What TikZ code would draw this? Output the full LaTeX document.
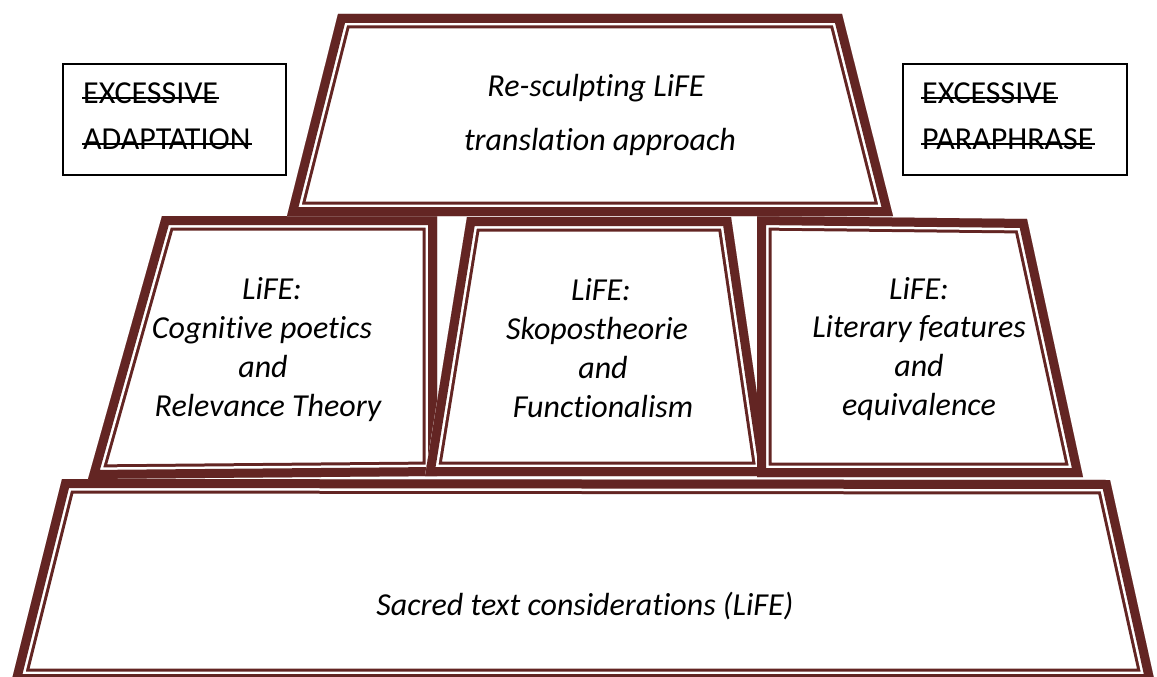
\documentclass[tikz,border=0pt]{standalone}
\usepackage{fontspec}
\setmainfont{Carlito}[Ligatures={NoCommon,NoContextual}]
\usetikzlibrary{calc}
\definecolor{framered}{RGB}{99,37,35}

% A quadrilateral with a thick-thin compound outline drawn on its inside:
% thick band 9pt, white gap 2.5pt, thin line 3pt.
\newcommand\framedquad[4]{%
  \fill[white] #1--#2--#3--#4--cycle;
  \begin{scope}
    \clip #1--#2--#3--#4--cycle;
    \draw[framered, line width=29pt, line join=miter, miter limit=30] #1--#2--#3--#4--cycle;
    \draw[white, line width=23pt, line join=miter, miter limit=30] #1--#2--#3--#4--cycle;
    \draw[framered, line width=18pt, line join=miter, miter limit=30] #1--#2--#3--#4--cycle;
  \end{scope}}

\tikzset{
  tier text/.style={font=\fontsize{32}{38}\selectfont\itshape, anchor=base, inner sep=0pt},
  caps text/.style={font=\fontsize{32}{38}\selectfont, anchor=base west, inner sep=0pt},
  note box/.style={draw=black, line width=1.7pt},
  strike/.style={draw=black, line width=2pt},
}

\begin{document}
\begin{tikzpicture}[x=1pt, y=-1pt]
  \clip (0,0) rectangle (1157,677);
  \useasboundingbox (0,0) rectangle (1157,677);

  % base tier
  \framedquad{(62,479)}{(1110,480)}{(1155,683)}{(11,683)}
  % middle tier
  \framedquad{(162,216)}{(437,216)}{(437,476)}{(88,479)}
  \framedquad{(467,217)}{(731,217)}{(769,476)}{(425,476)}
  \framedquad{(757,216)}{(1027,219)}{(1083,477)}{(757,477)}
  % top tier
  \framedquad{(338,14)}{(842,14)}{(893,216)}{(287,216)}

  % top tier text
  \node[tier text] (top1) at (596,96) {Re-sculpting LiFE};
  \node[tier text] (top2) at (600,150) {translation approach};

  % left pillar
  \node[tier text] (l1) at (272,299) {LiFE:};
  \node[tier text] (l2) at (262,338) {Cognitive poetics};
  \node[tier text] (l3) at (263,377) {and};
  \node[tier text] (l4) at (268,416) {Relevance Theory};

  % middle pillar
  \node[tier text] (m1) at (601,300) {LiFE:};
  \node[tier text] (m2) at (597,339) {Skopostheorie};
  \node[tier text] (m3) at (603,378) {and};
  \node[tier text] (m4) at (603,417) {Functionalism};

  % right pillar
  \node[tier text] (r1) at (919,299) {LiFE:};
  \node[tier text] (r2) at (919,337) {Literary features};
  \node[tier text] (r3) at (919,376) {and};
  \node[tier text] (r4) at (919,415) {equivalence};

  % base text
  \node[tier text] (base) at (585,615) {Sacred text considerations (LiFE)};

  % struck-out side notes
  \draw[note box] (63,64) rectangle (286,175);
  \node[caps text] (al1) at (83,103) {EXCESSIVE};
  \node[caps text] (al2) at (83,149) {ADAPTATION};
  \draw[note box] (903,64) rectangle (1127,175);
  \node[caps text] (pr1) at (922,103) {EXCESSIVE};
  \node[caps text] (pr2) at (922,149) {PARAPHRASE};
  \foreach \n in {al1,al2,pr1,pr2}
    \draw[strike] ($(\n.base west)+(-1,-5)$) -- ($(\n.base east)+(1,-5)$);
\end{tikzpicture}
\end{document}
